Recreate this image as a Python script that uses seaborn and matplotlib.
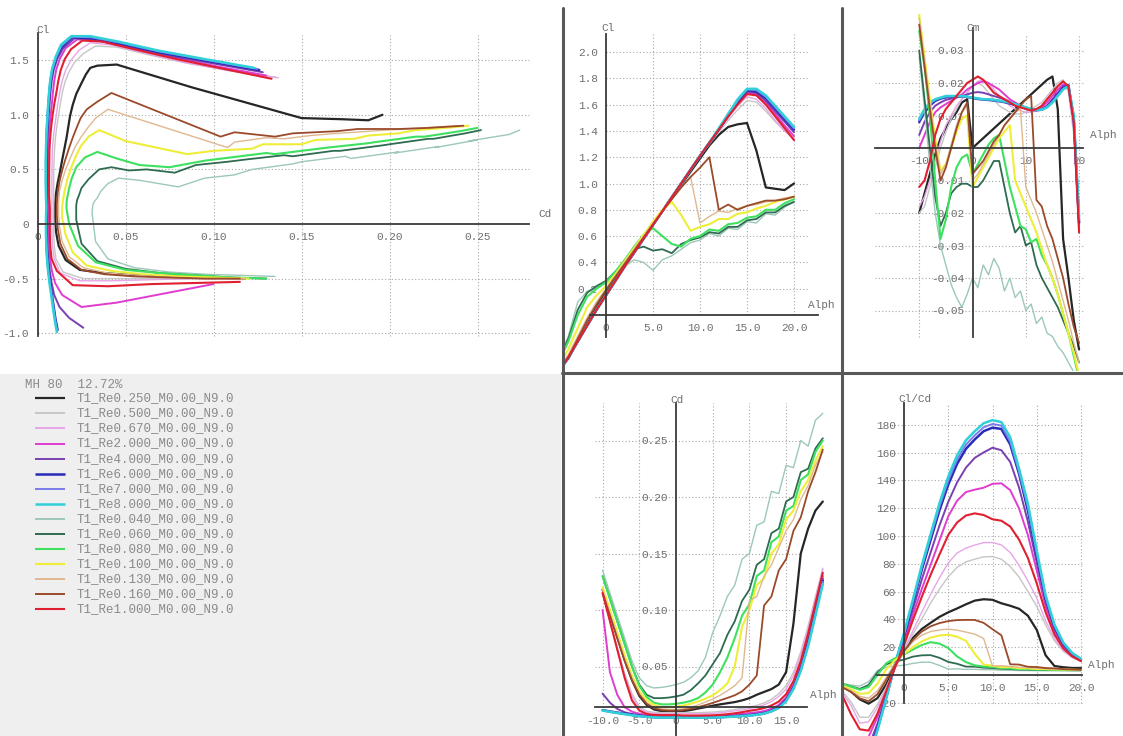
import matplotlib
matplotlib.use('Agg')
import matplotlib.pyplot as plt
from matplotlib.lines import Line2D
import pandas as pd
import seaborn as sns

W, H = 1123, 736

# angle of attack, one value per polar point
alpha = list(range(-10, 21))

names = ['T1_Re0.250_M0.00_N9.0', 'T1_Re0.500_M0.00_N9.0', 'T1_Re0.670_M0.00_N9.0',
         'T1_Re2.000_M0.00_N9.0', 'T1_Re4.000_M0.00_N9.0', 'T1_Re6.000_M0.00_N9.0',
         'T1_Re7.000_M0.00_N9.0', 'T1_Re8.000_M0.00_N9.0', 'T1_Re0.040_M0.00_N9.0',
         'T1_Re0.060_M0.00_N9.0', 'T1_Re0.080_M0.00_N9.0', 'T1_Re0.100_M0.00_N9.0',
         'T1_Re0.130_M0.00_N9.0', 'T1_Re0.160_M0.00_N9.0', 'T1_Re1.000_M0.00_N9.0']
colors = ['#262626', '#c6c6c6', '#e6a6e6', '#e03cd0', '#7a3fb0', '#2a2ab8', '#7b7bea',
          '#30d0d8', '#9cc8b8', '#2e6b50', '#3ee060', '#eeee3a', '#e0b890', '#9a4a2a', '#e02030']
widths = [1.6, 1.0, 1.0, 1.4, 1.4, 1.8, 1.4, 1.8, 1.0, 1.3, 1.5, 1.5, 1.0, 1.3, 1.5]

# lift coefficient
cl_re0250 = [-0.50, -0.49, -0.48, -0.47, -0.45, -0.42, -0.33, -0.20, -0.07, 0.06,
             0.18, 0.28, 0.38, 0.48, 0.585, 0.69, 0.79, 0.89, 0.99, 1.09, 1.19, 1.29, 1.37, 1.43,
             1.45, 1.46, 1.25, 0.97, 0.96, 0.95, 1.00]
cl_re0500 = [-0.50, -0.50, -0.50, -0.50, -0.50, -0.44, -0.32, -0.20, -0.08, 0.05,
             0.16, 0.27, 0.37, 0.475, 0.58, 0.685, 0.79, 0.895, 1.00, 1.105, 1.21, 1.30, 1.39,
             1.48, 1.56, 1.63, 1.62, 1.55, 1.47, 1.40, 1.34]
cl_re0670 = [-0.50, -0.50, -0.51, -0.52, -0.52, -0.45, -0.32, -0.20, -0.08, 0.04,
             0.15, 0.26, 0.37, 0.475, 0.58, 0.685, 0.79, 0.895, 1.00, 1.105, 1.21, 1.31, 1.41,
             1.50, 1.59, 1.66, 1.64, 1.57, 1.48, 1.40, 1.34]
cl_re2000 = [-0.55, -0.72, -0.76, -0.65, -0.54, -0.43, -0.32, -0.20, -0.08, 0.04,
             0.15, 0.26, 0.37, 0.475, 0.58, 0.685, 0.79, 0.895, 1.00, 1.105, 1.21, 1.31, 1.41,
             1.51, 1.61, 1.69, 1.68, 1.62, 1.53, 1.44, 1.36]
cl_re4000 = [-0.95, -0.86, -0.76, -0.65, -0.54, -0.43, -0.32, -0.20, -0.08, 0.04,
             0.15, 0.26, 0.37, 0.475, 0.58, 0.685, 0.79, 0.895, 1.00, 1.105, 1.21, 1.31, 1.41,
             1.51, 1.61, 1.70, 1.69, 1.63, 1.55, 1.47, 1.39]
cl_re6000 = [-0.97, -0.87, -0.76, -0.65, -0.54, -0.43, -0.32, -0.20, -0.08, 0.04,
             0.15, 0.26, 0.37, 0.475, 0.58, 0.685, 0.79, 0.895, 1.00, 1.105, 1.21, 1.31, 1.41,
             1.52, 1.62, 1.71, 1.70, 1.65, 1.57, 1.49, 1.41]
cl_re7000 = [-0.98, -0.87, -0.76, -0.65, -0.54, -0.43, -0.32, -0.20, -0.08, 0.04,
             0.15, 0.26, 0.37, 0.475, 0.58, 0.685, 0.79, 0.895, 1.00, 1.105, 1.21, 1.31, 1.41,
             1.52, 1.63, 1.715, 1.71, 1.66, 1.58, 1.50, 1.42]
cl_re8000 = [-0.99, -0.88, -0.77, -0.65, -0.54, -0.43, -0.32, -0.20, -0.08, 0.04,
             0.15, 0.26, 0.37, 0.475, 0.58, 0.685, 0.79, 0.895, 1.00, 1.105, 1.21, 1.31, 1.42,
             1.53, 1.64, 1.72, 1.72, 1.67, 1.59, 1.51, 1.43]
cl_re0040 = [-0.48, -0.47, -0.46, -0.44, -0.40, -0.32, -0.16, 0.10, 0.18, 0.21,
             0.24, 0.30, 0.37, 0.42, 0.40, 0.34, 0.42, 0.45, 0.50, 0.55, 0.57, 0.62, 0.60, 0.66,
             0.65, 0.71, 0.70, 0.77, 0.76, 0.82, 0.86]
cl_re0060 = [-0.50, -0.49, -0.47, -0.45, -0.41, -0.34, -0.18, 0.04, 0.17, 0.22,
             0.26, 0.33, 0.41, 0.50, 0.52, 0.49, 0.50, 0.47, 0.54, 0.57, 0.59, 0.63, 0.62, 0.67,
             0.67, 0.72, 0.73, 0.78, 0.78, 0.83, 0.86]
cl_re0080 = [-0.50, -0.49, -0.47, -0.45, -0.42, -0.35, -0.20, 0.00, 0.14, 0.20,
             0.25, 0.33, 0.42, 0.52, 0.61, 0.66, 0.60, 0.54, 0.52, 0.58, 0.60, 0.65, 0.64, 0.69,
             0.70, 0.74, 0.75, 0.80, 0.80, 0.85, 0.88]
cl_re0100 = [-0.50, -0.49, -0.48, -0.46, -0.43, -0.38, -0.26, -0.10, 0.06, 0.15,
             0.22, 0.31, 0.41, 0.51, 0.61, 0.71, 0.80, 0.86, 0.76, 0.64, 0.67, 0.69, 0.73, 0.73,
             0.77, 0.78, 0.81, 0.83, 0.86, 0.88, 0.90]
cl_re0130 = [-0.50, -0.50, -0.49, -0.47, -0.45, -0.40, -0.30, -0.16, -0.02, 0.10,
             0.20, 0.30, 0.40, 0.50, 0.60, 0.70, 0.79, 0.88, 0.97, 1.05, 0.70, 0.75, 0.79, 0.78,
             0.81, 0.83, 0.84, 0.86, 0.87, 0.89, 0.90]
cl_re0160 = [-0.50, -0.50, -0.49, -0.48, -0.46, -0.42, -0.32, -0.18, -0.04, 0.08,
             0.19, 0.29, 0.39, 0.49, 0.59, 0.69, 0.79, 0.88, 0.97, 1.05, 1.12, 1.20, 0.80, 0.84,
             0.80, 0.83, 0.85, 0.87, 0.87, 0.88, 0.90]
cl_re1000 = [-0.53, -0.54, -0.55, -0.57, -0.56, -0.43, -0.32, -0.20, -0.08, 0.04,
             0.15, 0.26, 0.37, 0.475, 0.58, 0.685, 0.79, 0.895, 1.00, 1.105, 1.21, 1.31, 1.41,
             1.51, 1.60, 1.68, 1.67, 1.60, 1.51, 1.42, 1.33]

# drag coefficient
cd_re0250 = [0.118, 0.097, 0.076, 0.056, 0.038, 0.024, 0.016, 0.012, 0.0105, 0.010,
             0.010, 0.0105, 0.0115, 0.0128, 0.014, 0.0153, 0.0165, 0.0175, 0.0185, 0.020, 0.022,
             0.025, 0.0275, 0.030, 0.034, 0.045, 0.088, 0.150, 0.172, 0.188, 0.196]
cd_re0500 = [0.115, 0.090, 0.066, 0.044, 0.026, 0.0145, 0.0105, 0.0095, 0.0092, 0.0092,
             0.0092, 0.0092, 0.0092, 0.0092, 0.0094, 0.0097, 0.0102, 0.0110, 0.0120, 0.0130,
             0.0142, 0.0156, 0.0178, 0.0210, 0.0260, 0.0330, 0.0450, 0.0630, 0.0860, 0.1120, 0.1370]
cd_re0670 = [0.115, 0.090, 0.065, 0.042, 0.024, 0.013, 0.0095, 0.0085, 0.0082, 0.0082,
             0.0082, 0.0082, 0.0082, 0.0082, 0.0083, 0.0085, 0.0090, 0.0098, 0.0107, 0.0116,
             0.0127, 0.0140, 0.0160, 0.0190, 0.0235, 0.0300, 0.0420, 0.0600, 0.0830, 0.1100, 0.1360]
cd_re2000 = [0.100, 0.045, 0.025, 0.014, 0.010, 0.0082, 0.0072, 0.0066, 0.0064, 0.0064,
             0.0064, 0.0060, 0.0060, 0.0060, 0.0060, 0.0060, 0.0063, 0.0068, 0.0075, 0.0082,
             0.0088, 0.0095, 0.0106, 0.0126, 0.0160, 0.0225, 0.0340, 0.0520, 0.0760, 0.1030, 0.1300]
cd_re4000 = [0.026, 0.018, 0.0125, 0.0095, 0.0080, 0.0070, 0.0062, 0.0057, 0.0055, 0.0055,
             0.0056, 0.0055, 0.0054, 0.0054, 0.0054, 0.0055, 0.0057, 0.0060, 0.0064, 0.0069,
             0.0074, 0.0081, 0.0092, 0.0112, 0.0146, 0.0210, 0.0320, 0.0490, 0.0720, 0.1000, 0.1280]
cd_re6000 = [0.0114, 0.0102, 0.0092, 0.0082, 0.0072, 0.0063, 0.0056, 0.0052, 0.0050, 0.0050,
             0.0052, 0.0050, 0.0049, 0.0049, 0.0049, 0.0050, 0.0052, 0.0055, 0.0059, 0.0063,
             0.0068, 0.0074, 0.0085, 0.0105, 0.0137, 0.0198, 0.0308, 0.0475, 0.0700, 0.0980, 0.1260]
cd_re7000 = [0.0112, 0.0100, 0.0090, 0.0080, 0.0070, 0.0062, 0.0055, 0.0051, 0.0049, 0.0049,
             0.0051, 0.0049, 0.0048, 0.0048, 0.0048, 0.0049, 0.0051, 0.0054, 0.0058, 0.0062,
             0.0067, 0.0073, 0.0084, 0.0104, 0.0135, 0.0195, 0.0305, 0.0470, 0.0690, 0.0970, 0.1250]
cd_re8000 = [0.0110, 0.0098, 0.0088, 0.0078, 0.0068, 0.0060, 0.0054, 0.0050, 0.0048, 0.0048,
             0.0050, 0.0048, 0.0047, 0.0047, 0.0047, 0.0048, 0.0050, 0.0053, 0.0057, 0.0061,
             0.0066, 0.0072, 0.0083, 0.0103, 0.0133, 0.0192, 0.0300, 0.0460, 0.0680, 0.0950, 0.1230]
cd_re0040 = [0.135, 0.115, 0.095, 0.075, 0.055, 0.040, 0.033, 0.031, 0.0315, 0.0325,
             0.034, 0.036, 0.040, 0.046, 0.058, 0.080, 0.095, 0.112, 0.122, 0.145, 0.150,
             0.175, 0.178, 0.205, 0.203, 0.228, 0.226, 0.250, 0.245, 0.268, 0.274]
cd_re0060 = [0.130, 0.110, 0.090, 0.070, 0.050, 0.034, 0.025, 0.022, 0.022, 0.0225,
             0.0235, 0.025, 0.029, 0.035, 0.042, 0.052, 0.062, 0.078, 0.090, 0.108, 0.118,
             0.140, 0.145, 0.168, 0.172, 0.196, 0.200, 0.222, 0.225, 0.243, 0.252]
cd_re0080 = [0.130, 0.110, 0.090, 0.070, 0.050, 0.033, 0.023, 0.018, 0.0165, 0.0165,
             0.017, 0.018, 0.0195, 0.022, 0.027, 0.034, 0.045, 0.058, 0.075, 0.095, 0.105,
             0.130, 0.135, 0.160, 0.165, 0.188, 0.192, 0.215, 0.220, 0.240, 0.250]
cd_re0100 = [0.120, 0.100, 0.080, 0.060, 0.042, 0.028, 0.020, 0.016, 0.014, 0.014,
             0.0145, 0.0155, 0.017, 0.019, 0.0215, 0.0245, 0.029, 0.035, 0.050, 0.085, 0.100,
             0.122, 0.128, 0.150, 0.158, 0.180, 0.188, 0.205, 0.215, 0.232, 0.245]
cd_re0130 = [0.118, 0.097, 0.077, 0.057, 0.040, 0.026, 0.018, 0.014, 0.0125, 0.012,
             0.012, 0.0125, 0.014, 0.016, 0.0185, 0.0212, 0.0245, 0.0285, 0.033, 0.040, 0.108,
             0.112, 0.130, 0.140, 0.155, 0.170, 0.180, 0.198, 0.210, 0.228, 0.240]
cd_re0160 = [0.115, 0.095, 0.075, 0.055, 0.038, 0.025, 0.017, 0.013, 0.0115, 0.011,
             0.011, 0.0115, 0.0125, 0.014, 0.0158, 0.0178, 0.020, 0.0222, 0.0245, 0.028, 0.034,
             0.042, 0.104, 0.112, 0.135, 0.145, 0.170, 0.182, 0.205, 0.222, 0.242]
cd_re1000 = [0.115, 0.090, 0.065, 0.040, 0.020, 0.011, 0.0080, 0.0072, 0.0070, 0.0070,
             0.0070, 0.0066, 0.0066, 0.0066, 0.0067, 0.0068, 0.0072, 0.0078, 0.0086, 0.0096,
             0.0108, 0.0118, 0.0132, 0.0155, 0.0190, 0.0255, 0.0370, 0.0550, 0.0790, 0.1060, 0.1330]

# pitching moment coefficient
cm_re0250 = [-0.020, -0.014, -0.008, -0.002, 0.003, 0.006, 0.009, 0.011, 0.014, 0.015,
             0.000, 0.0015, 0.003, 0.0045, 0.006, 0.0075, 0.009, 0.0105, 0.012, 0.0135, 0.015,
             0.0165, 0.018, 0.0195, 0.021, 0.022, 0.012, -0.028, -0.040, -0.053, -0.062]
cm_re0500 = [-0.020, -0.018, -0.012, -0.006, 0.000, 0.005, 0.009, 0.012, 0.015, 0.017,
             0.019, 0.020, 0.019, 0.017, 0.015, 0.013, 0.012, 0.011, 0.0105, 0.0105, 0.011,
             0.012, 0.013, 0.014, 0.016, 0.018, 0.020, 0.021, 0.017, 0.004, -0.026]
cm_re0670 = [-0.018, -0.015, -0.010, -0.004, 0.002, 0.007, 0.010, 0.013, 0.015, 0.017,
             0.019, 0.0205, 0.021, 0.020, 0.018, 0.016, 0.0145, 0.013, 0.012, 0.0115, 0.011,
             0.011, 0.0115, 0.013, 0.015, 0.017, 0.019, 0.020, 0.018, 0.006, -0.025]
cm_re2000 = [0.000, 0.004, 0.008, 0.011, 0.0125, 0.0135, 0.0145, 0.0155, 0.0165, 0.018,
             0.019, 0.020, 0.0205, 0.020, 0.019, 0.018, 0.0165, 0.015, 0.014, 0.013, 0.0125,
             0.012, 0.012, 0.0125, 0.014, 0.016, 0.018, 0.0195, 0.019, 0.008, -0.024]
cm_re4000 = [0.004, 0.008, 0.011, 0.013, 0.014, 0.0148, 0.0152, 0.0156, 0.016, 0.0165,
             0.017, 0.0172, 0.017, 0.0165, 0.016, 0.0155, 0.015, 0.0142, 0.0135, 0.013, 0.0125,
             0.012, 0.0118, 0.012, 0.013, 0.015, 0.017, 0.019, 0.0192, 0.009, -0.023]
cm_re6000 = [0.008, 0.011, 0.013, 0.0145, 0.0152, 0.0156, 0.0158, 0.0159, 0.0159, 0.0157,
             0.0154, 0.0151, 0.0149, 0.0148, 0.0146, 0.0144, 0.0141, 0.0137, 0.0132, 0.0127,
             0.0122, 0.0118, 0.0116, 0.0118, 0.0127, 0.0144, 0.0164, 0.0184, 0.0193, 0.009, -0.023]
cm_re7000 = [0.0085, 0.0115, 0.0135, 0.0148, 0.0154, 0.0158, 0.0159, 0.016, 0.016, 0.0158,
             0.0155, 0.0152, 0.015, 0.0149, 0.0147, 0.0145, 0.0142, 0.0139, 0.0134, 0.0129,
             0.0124, 0.0119, 0.0117, 0.0118, 0.0126, 0.0142, 0.0162, 0.0182, 0.0192, 0.0095, -0.022]
cm_re8000 = [0.009, 0.012, 0.014, 0.015, 0.0155, 0.016, 0.016, 0.016, 0.016, 0.0158,
             0.0155, 0.0153, 0.015, 0.015, 0.0148, 0.0146, 0.0143, 0.014, 0.0135, 0.013, 0.0125,
             0.012, 0.0118, 0.0118, 0.0125, 0.014, 0.016, 0.018, 0.019, 0.010, -0.021]
cm_re0040 = [0.028, 0.012, -0.005, -0.020, -0.030, -0.036, -0.042, -0.046, -0.049, -0.045,
             -0.040, -0.043, -0.036, -0.039, -0.034, -0.037, -0.044, -0.040, -0.046, -0.044,
             -0.050, -0.048, -0.054, -0.052, -0.057, -0.058, -0.061, -0.063, -0.066, -0.069, -0.072]
cm_re0060 = [0.030, 0.015, 0.000, -0.015, -0.024, -0.020, -0.014, -0.012, -0.011, -0.011,
             -0.012, -0.012, -0.010, -0.007, -0.004, -0.004, -0.012, -0.020, -0.026, -0.024,
             -0.030, -0.029, -0.036, -0.040, -0.043, -0.046, -0.049, -0.053, -0.057, -0.061, -0.066]
cm_re0080 = [0.036, 0.025, 0.010, -0.010, -0.028, -0.022, -0.012, -0.006, -0.003, -0.002,
             -0.008, -0.005, -0.002, 0.001, 0.003, 0.004, -0.004, -0.012, -0.018, -0.024, -0.025,
             -0.029, -0.028, -0.033, -0.036, -0.040, -0.045, -0.051, -0.057, -0.064, -0.071]
cm_re0100 = [0.041, 0.028, 0.015, 0.003, -0.007, -0.005, 0.000, 0.005, 0.009, 0.010,
             -0.012, -0.009, -0.006, -0.003, 0.000, 0.003, 0.005, 0.007, -0.010, -0.014, -0.018,
             -0.022, -0.026, -0.031, -0.036, -0.040, -0.045, -0.051, -0.057, -0.063, -0.070]
cm_re0130 = [0.040, 0.027, 0.014, 0.002, -0.008, -0.005, 0.001, 0.007, 0.011, 0.013,
             -0.010, -0.008, -0.005, -0.002, 0.001, 0.004, 0.007, 0.009, 0.011, 0.012, -0.012,
             -0.016, -0.020, -0.025, -0.030, -0.035, -0.041, -0.047, -0.053, -0.060, -0.066]
cm_re0160 = [0.038, 0.025, 0.012, 0.000, -0.010, -0.006, 0.000, 0.006, 0.011, 0.014,
             -0.008, -0.006, -0.004, -0.001, 0.002, 0.004, 0.007, 0.009, 0.011, 0.013, 0.015,
             0.016, -0.016, -0.018, -0.024, -0.028, -0.034, -0.040, -0.048, -0.055, -0.060]
cm_re1000 = [-0.012, -0.010, -0.004, 0.004, 0.009, 0.012, 0.014, 0.016, 0.018, 0.020,
             0.021, 0.022, 0.021, 0.019, 0.017, 0.016, 0.015, 0.014, 0.013, 0.0125, 0.012,
             0.0115, 0.012, 0.013, 0.015, 0.017, 0.019, 0.0205, 0.019, 0.008, -0.026]

cl_all = [cl_re0250, cl_re0500, cl_re0670, cl_re2000, cl_re4000, cl_re6000, cl_re7000, cl_re8000,
          cl_re0040, cl_re0060, cl_re0080, cl_re0100, cl_re0130, cl_re0160, cl_re1000]
cd_all = [cd_re0250, cd_re0500, cd_re0670, cd_re2000, cd_re4000, cd_re6000, cd_re7000, cd_re8000,
          cd_re0040, cd_re0060, cd_re0080, cd_re0100, cd_re0130, cd_re0160, cd_re1000]
cm_all = [cm_re0250, cm_re0500, cm_re0670, cm_re2000, cm_re4000, cm_re6000, cm_re7000, cm_re8000,
          cm_re0040, cm_re0060, cm_re0080, cm_re0100, cm_re0130, cm_re0160, cm_re1000]

frames = []
for name, cl, cd, cm in zip(names, cl_all, cd_all, cm_all):
    frames.append(pd.DataFrame({'polar': name, 'alpha': alpha, 'Cl': cl, 'Cd': cd, 'Cm': cm}))
df = pd.concat(frames, ignore_index=True)
df['ClCd'] = df['Cl'] / df['Cd']

sns.set_style('white')
plt.rcParams['font.family'] = ['Liberation Mono', 'DejaVu Sans Mono']

fig = plt.figure(figsize=(W / 100, H / 100), dpi=100)
fig.patch.set_facecolor('white')

TXT = '#6e6e6e'
AX = '#3a3a3a'
GRID = '#a8a8a8'


def panel(rect, x0, sx, y0, sy):
    # rect in pixels (left, top, right, bottom); x0/y0 = pixel of data origin, sx/sy = px per unit
    l, t, r, b = rect
    ax = fig.add_axes([l / W, 1 - b / H, (r - l) / W, (b - t) / H])
    ax.set_facecolor('white')
    return ax, ((l - x0) / sx, (r - x0) / sx), ((y0 - b) / sy, (y0 - t) / sy)


def draw(ax, x, y):
    for name, c, w in zip(names, colors, widths):
        sub = df[df['polar'] == name]
        sns.lineplot(data=sub, x=x, y=y, sort=False, estimator=None, color=c,
                     linewidth=w, legend=False, ax=ax)


def style(ax, lims, xt, xl, yt, yl, xb, yb, xg, yg, xaxis_y=0.0):
    ax.set_xlim(lims[0])
    ax.set_ylim(lims[1])
    ax.set_xlabel('')
    ax.set_ylabel('')
    for s in ('top', 'right'):
        ax.spines[s].set_visible(False)
    ax.spines['left'].set_position(('data', 0))
    ax.spines['bottom'].set_position(('data', xaxis_y))
    ax.spines['left'].set_bounds(*yb)
    ax.spines['bottom'].set_bounds(*xb)
    for s in ('left', 'bottom'):
        ax.spines[s].set_color(AX)
        ax.spines[s].set_linewidth(1.3)
    ax.set_xticks(xt, xl)
    ax.set_yticks(yt, yl)
    ax.tick_params(length=4, width=1, color=AX, labelsize=8, labelcolor=TXT, pad=2)
    ax.hlines([v for v in yt if v != 0], xg[0], xg[1], colors=GRID,
              linestyles=(0, (1, 2)), lw=0.8, zorder=0)
    ax.vlines([v for v in xt if v != 0], yg[0], yg[1], colors=GRID,
              linestyles=(0, (1, 2)), lw=0.8, zorder=0)


def label(x, y, s):
    fig.text(x / W, 1 - y / H, s, fontsize=8, color=TXT, va='center', ha='left')


# polar Cl vs Cd
ax1, xl1, yl1 = panel((0, 0, 561, 371), 37.5, 1760, 224, 109.2)
draw(ax1, 'Cd', 'Cl')
style(ax1, (xl1, yl1), [0, 0.05, 0.10, 0.15, 0.20, 0.25], ['0', '0.05', '0.10', '0.15', '0.20', '0.25'],
      [-1.0, -0.5, 0, 0.5, 1.0, 1.5], ['-1.0', '-0.5', '0', '0.5', '1.0', '1.5'],
      (0, 0.279), (-1.03, 1.75), (0, 0.279), (-1.03, 1.75))
label(36, 30, 'Cl')
label(538, 214, 'Cd')

# Cl vs alpha
ax2, xl2, yl2 = panel((564, 8, 840, 371), 606, 9.4, 315, 131.5)
draw(ax2, 'alpha', 'Cl')
style(ax2, (xl2, yl2), [0, 5, 10, 15, 20], ['0', '5.0', '10.0', '15.0', '20.0'],
      [0.2, 0.4, 0.6, 0.8, 1.0, 1.2, 1.4, 1.6, 1.8, 2.0],
      ['0.2', '0.4', '0.6', '0.8', '1.0', '1.2', '1.4', '1.6', '1.8', '2.0'],
      (-1.7, 22.5), (-0.17, 2.14), (0, 21.5), (0, 2.14))
label(601, 28, 'Cl')
label(808, 305, 'Alph')

# Cm vs alpha
ax3, xl3, yl3 = panel((843, 8, 1123, 371), 972.5, 5.33, 148, 3250)
draw(ax3, 'alpha', 'Cm')
style(ax3, (xl3, yl3), [-10, 0, 10, 20], ['-10', '0', '10', '20'],
      [0.03, 0.02, 0.01, -0.01, -0.02, -0.03, -0.04, -0.05],
      ['0.03', '0.02', '0.01', '-0.01', '-0.02', '-0.03', '-0.04', '-0.05'],
      (-18.2, 20.8), (-0.058, 0.037), (-18.2, 20.8), (-0.058, 0.035))
label(966, 28, 'Cm')
label(1090, 135, 'Alph')

# Cd vs alpha
ax4, xl4, yl4 = panel((564, 374, 840, 736), 676, 7.34, 723, 1130)
draw(ax4, 'alpha', 'Cd')
style(ax4, (xl4, yl4), [-10, -5, 0, 5, 10, 15], ['-10.0', '-5.0', '0', '5.0', '10.0', '15.0'],
      [0.05, 0.10, 0.15, 0.20, 0.25], ['0.05', '0.10', '0.15', '0.20', '0.25'],
      (-11, 17.8), (-0.012, 0.283), (-11, 16.9), (0.014, 0.283), xaxis_y=0.014)
label(670, 400, 'Cd')
label(810, 695, 'Alph')

# Cl/Cd vs alpha
ax5, xl5, yl5 = panel((843, 374, 1123, 736), 904, 8.85, 675, 1.39)
draw(ax5, 'alpha', 'ClCd')
style(ax5, (xl5, yl5), [0, 5, 10, 15, 20], ['0', '5.0', '10.0', '15.0', '20.0'],
      [-20, 20, 40, 60, 80, 100, 120, 140, 160, 180],
      ['-20', '20', '40', '60', '80', '100', '120', '140', '160', '180'],
      (-3, 20.1), (-20, 196), (-1.5, 20.1), (-20, 196))
label(898, 399, 'Cl/Cd')
label(1088, 665, 'Alph')

# legend panel
axl = fig.add_axes([0, 0, 561 / W, (736 - 374) / H])
axl.set_facecolor('#efefef')
axl.set_xlim(0, 561)
axl.set_ylim(736, 374)
axl.set_xticks([])
axl.set_yticks([])
for s in axl.spines.values():
    s.set_visible(False)
axl.text(25, 385, 'MH 80  12.72%', fontsize=9, color='#8a8a8a', va='center')
for i, (name, c, w) in enumerate(zip(names, colors, widths)):
    y = 398.3 + i * 15.07
    axl.hlines(y, 35, 65, colors=c, lw=max(w, 1.4))
    axl.text(77, y, name, fontsize=9, color='#8a8a8a', va='center')

# panel separators
for (xa, ya, xb, yb) in [(562.5, 8, 562.5, 736), (841.5, 8, 841.5, 736), (562, 372.5, 1123, 372.5)]:
    fig.add_artist(Line2D([xa / W, xb / W], [1 - ya / H, 1 - yb / H], color='#585858',
                          lw=2.2, transform=fig.transFigure, zorder=10))

fig.savefig('out.png', dpi=100)
